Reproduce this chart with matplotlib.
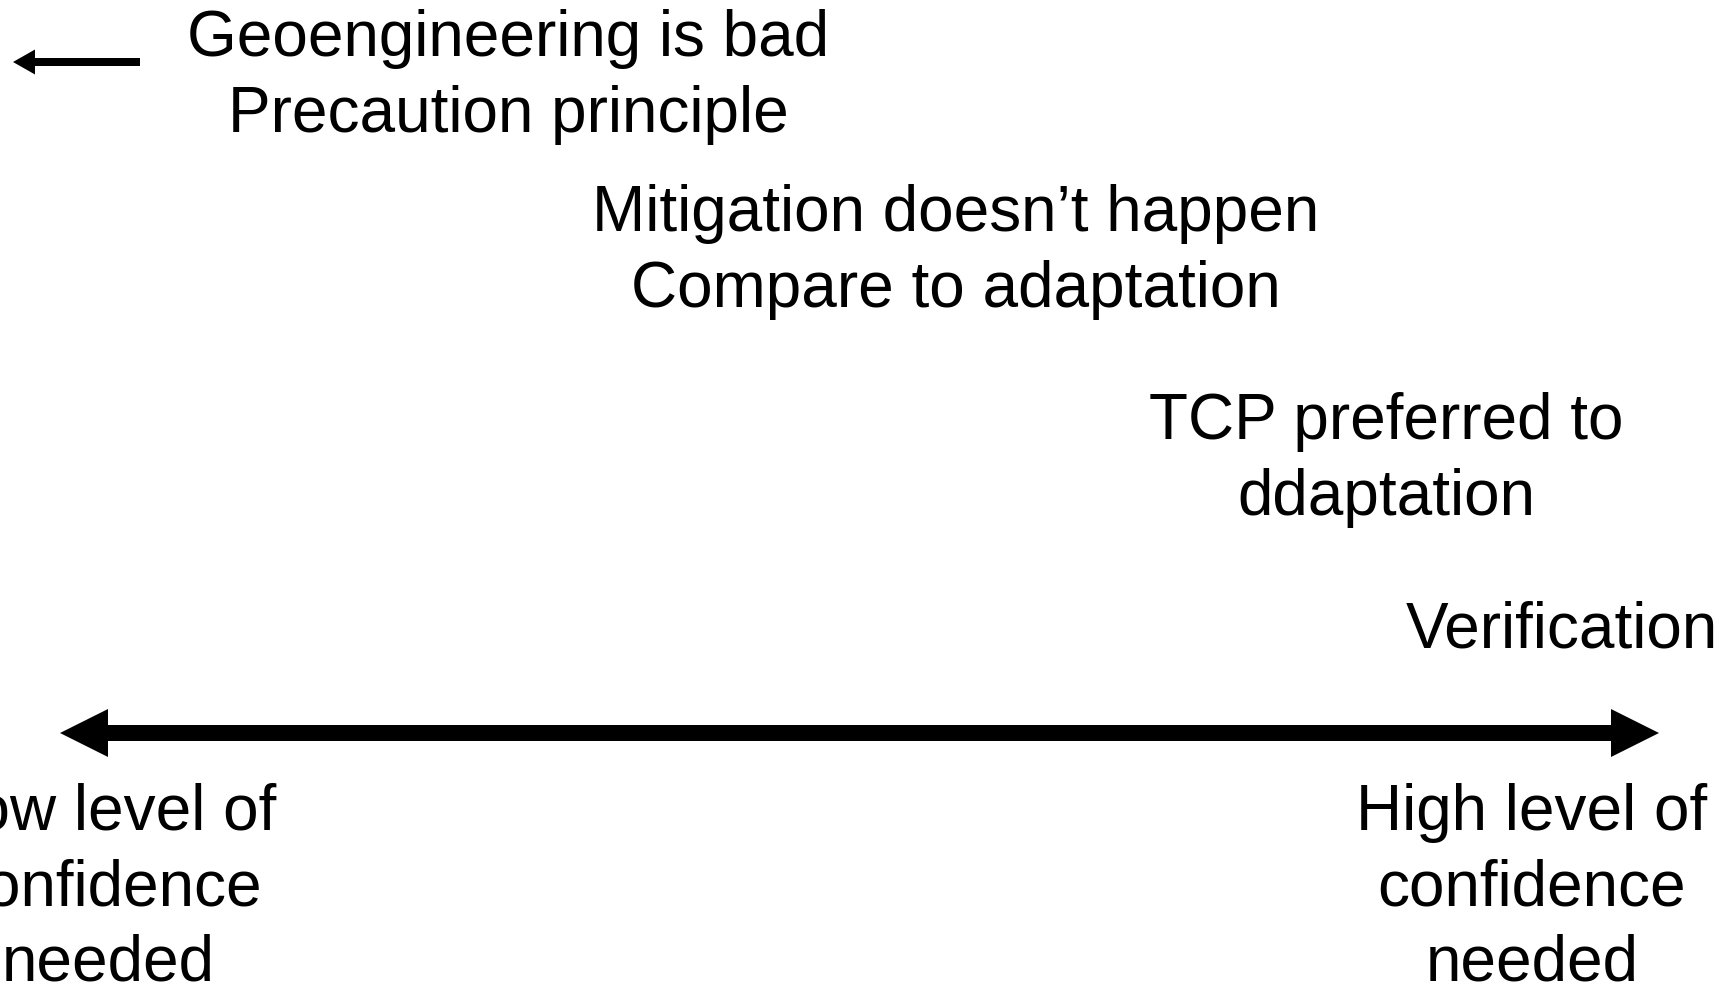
import matplotlib.pyplot as plt

# Texte du schéma
labels = [
    "Geoengineering is bad\nPrecaution principle",
    "Mitigation doesn\u2019t happen\nCompare to adaptation",
    "TCP preferred to\nddaptation",
    "Verification",
    "Low level of\nconfidence\nneeded",
    "High level of\nconfidence\nneeded",
]
label_x = [508, 956, 1386, 1562, 108, 1532]
label_y = [77, 252, 460, 630, 888, 888]

W, H = 1733, 986
fig = plt.figure(figsize=(W / 100, H / 100), dpi=100)
ax = fig.add_axes([0, 0, 1, 1])
ax.set_xlim(0, W)
ax.set_ylim(H, 0)
ax.axis("off")

# Grande flèche double
for x0, x1 in [(836, 60), (836, 1659)]:
    ax.arrow(x0, 733, x1 - x0, 0, width=16, head_width=48, head_length=48,
             length_includes_head=True, color="black", lw=0)

# Petite flèche en haut à gauche
ax.arrow(140, 62, 13 - 140, 0, width=8, head_width=25, head_length=22,
         length_includes_head=True, color="black", lw=0)

for txt, x, y in zip(labels, label_x, label_y):
    ax.text(x, y, txt, ha="center", va="center", fontsize=46,
            family="Liberation Sans", linespacing=1.32)

fig.savefig("out.png", dpi=100)
